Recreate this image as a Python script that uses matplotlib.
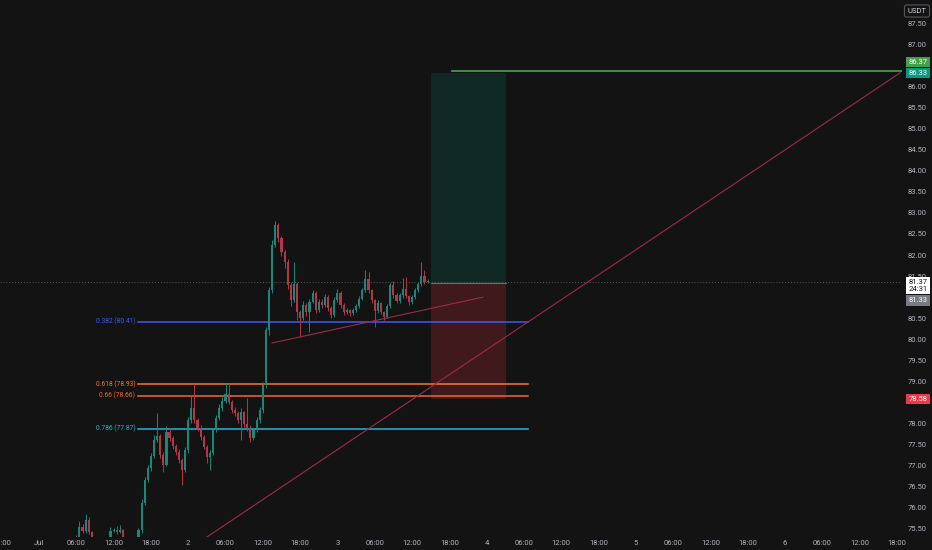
import matplotlib.pyplot as plt
import matplotlib.transforms as mtransforms
import numpy as np

# 30 min candles, July 1 06:00 -> July 3 14:30 (hours counted from July 1 00:00)
start_hour = 6.0
bar_hours = 0.5
first_open = 75.30
closes = [75.25, 75.54, 75.45, 75.71, 75.42, 75.20, 75.10, 75.15, 75.00, 75.10,
          75.20, 75.45, 75.47, 75.42, 75.47, 75.20, 75.10, 75.00, 74.90, 75.00,
          75.47, 76.11, 76.66, 76.94, 77.23, 77.61, 77.70, 77.25, 77.01, 77.80,
          77.65, 77.46, 77.32, 77.13, 76.89, 77.37, 78.08, 78.37, 78.08, 77.89,
          77.68, 77.44, 77.20, 77.30, 77.84, 78.13, 78.37, 78.53, 78.70, 78.51,
          78.32, 78.25, 78.08, 78.27, 77.99, 77.89, 77.65, 77.84, 78.08, 78.32,
          78.91, 80.22, 81.17, 82.24, 82.71, 82.40, 82.07, 81.84, 81.29, 80.93,
          81.31, 80.65, 80.50, 80.81, 80.65, 80.89, 81.10, 80.70, 80.89, 80.81,
          81.00, 80.74, 80.58, 80.93, 81.10, 80.81, 80.65, 80.69, 80.62, 80.69,
          80.79, 80.96, 81.17, 81.43, 81.17, 80.93, 80.67, 80.86, 80.65, 80.53,
          80.79, 81.29, 81.05, 80.91, 81.05, 81.19, 81.03, 80.89, 81.00, 81.17,
          81.31, 81.50, 81.36, 81.37]
highs = [75.35, 75.68, 75.62, 75.85, 75.78, 75.45, 75.25, 75.22, 75.18, 75.15,
         75.25, 75.54, 75.52, 75.56, 75.59, 75.48, 75.22, 75.15, 75.05, 75.08,
         75.52, 76.20, 76.72, 77.02, 77.30, 77.72, 78.25, 77.74, 77.32, 77.94,
         77.88, 77.70, 77.52, 77.38, 77.18, 77.45, 78.15, 78.68, 78.94, 78.12,
         77.95, 77.72, 77.48, 77.36, 77.90, 78.20, 78.45, 78.62, 78.96, 78.96,
         78.55, 78.40, 78.30, 78.36, 78.30, 78.60, 77.95, 77.90, 78.15, 78.40,
         78.98, 80.30, 81.25, 82.35, 82.80, 82.76, 82.45, 82.12, 81.90, 81.35,
         81.83, 81.36, 80.70, 80.90, 80.85, 80.95, 81.18, 81.15, 80.95, 80.95,
         81.08, 81.05, 80.80, 81.00, 81.20, 81.15, 80.85, 80.75, 80.72, 80.74,
         80.84, 81.02, 81.22, 81.65, 81.60, 81.20, 80.95, 80.92, 80.88, 80.68,
         80.84, 81.34, 81.38, 81.10, 81.10, 81.45, 81.48, 81.06, 81.05, 81.22,
         81.36, 81.84, 81.65, 81.42]
lows = [75.15, 75.20, 75.40, 75.40, 75.38, 75.05, 75.00, 75.05, 74.92, 74.95,
        75.05, 75.15, 75.42, 75.38, 75.40, 75.10, 75.00, 74.90, 74.80, 74.85,
        74.95, 75.40, 76.05, 76.60, 76.88, 77.18, 77.55, 77.18, 76.84, 76.98,
        77.58, 77.40, 77.25, 77.05, 76.54, 76.85, 77.30, 78.02, 78.00, 77.82,
        77.60, 77.38, 77.06, 76.89, 77.25, 77.80, 78.08, 78.30, 78.48, 78.45,
        78.25, 78.18, 78.00, 77.60, 77.92, 77.82, 77.55, 77.60, 77.80, 78.02,
        78.25, 78.85, 80.10, 81.10, 82.18, 82.30, 81.98, 81.70, 81.20, 80.80,
        80.88, 80.45, 80.05, 80.45, 80.55, 80.17, 80.85, 80.62, 80.65, 80.75,
        80.76, 80.68, 80.50, 80.52, 80.88, 80.75, 80.58, 80.60, 80.55, 80.58,
        80.65, 80.74, 80.92, 81.12, 81.10, 80.86, 80.29, 80.62, 80.60, 80.46,
        80.50, 80.74, 80.98, 80.85, 80.86, 80.98, 80.98, 80.82, 80.84, 80.95,
        81.12, 81.26, 81.30, 81.33]

fib_names = ["0.382", "0.618", "0.66", "0.786"]
fib_prices = [80.41, 78.93, 78.66, 77.87]
fib_colors = ["#3d5cf2", "#f07b2c", "#ee6a2e", "#22b5d4"]
fib_span = [16.0, 78.7]

entry_price = 81.33
target_price = 86.33
stop_price = 78.58
position_span = [63.0, 75.1]
target_line_price = 86.37
target_line_start = 66.4
last_price = 81.37
countdown = "24:31"

trend_x = [37.5, 71.4]
trend_y = [79.91, 81.00]
diag_x = [26.5, 138.5]
diag_y = [75.25, 86.33]

time_ticks = list(range(-6, 139, 6))
time_labels = ["18:00", "Jul", "06:00", "12:00", "18:00", "2", "06:00", "12:00", "18:00",
               "3", "06:00", "12:00", "18:00", "4", "06:00", "12:00", "18:00",
               "5", "06:00", "12:00", "18:00", "6", "06:00", "12:00", "18:00"]
price_ticks = [75.5, 76.0, 76.5, 77.0, 77.5, 78.0, 79.0, 79.5, 80.0, 80.5,
               81.5, 82.0, 82.5, 83.0, 83.5, 84.0, 84.5, 85.0, 85.5, 86.0,
               87.0, 87.5]

bg = "#131313"
up_col = "#17887a"
down_col = "#b3364b"
draw_col = "#9e2b45"
text_col = "#b2b5be"

plt.rcParams['font.family'] = ['Roboto', 'DejaVu Sans']

fig = plt.figure(figsize=(9.32, 5.5), dpi=100, facecolor=bg)
ax = fig.add_axes([0, 13 / 550, 902 / 932, 537 / 550])
ax.set_facecolor(bg)
ax.set_xlim(-6.27, 138.8)
ax.set_ylim(75.30, 88.06)
for s in ax.spines.values():
    s.set_visible(False)

# candles
t = start_hour + bar_hours * np.arange(len(closes))
c = np.array(closes)
o = np.concatenate([[first_open], c[:-1]])
cols = [up_col if cc >= oo else down_col for oo, cc in zip(o, c)]
ax.vlines(t, lows, highs, colors=cols, linewidth=0.7, zorder=3)
body = np.where(np.abs(c - o) < 0.02, 0.02, c - o)
ax.bar(t, body, bottom=o, width=0.34, color=cols, linewidth=0, zorder=4)

# long position tool
ax.fill_between(position_span, entry_price, target_price, color="#089981", alpha=0.17, linewidth=0, zorder=1)
ax.fill_between(position_span, stop_price, entry_price, color="#f23645", alpha=0.2, linewidth=0, zorder=1)
ax.plot(position_span, [entry_price, entry_price], color="#6b6b6b", linewidth=0.8, zorder=2)
ax.plot([target_line_start, 138.8], [target_line_price] * 2, color="#3f9a45", linewidth=1.3, zorder=2)

# last price line
ax.axhline(last_price, color="#5a5a5a", linewidth=0.7, linestyle=(0, (1, 2)), zorder=1)

# fib levels
for name, p, col in zip(fib_names, fib_prices, fib_colors):
    ax.plot(fib_span, [p, p], color=col, linewidth=1.1, zorder=2)
    ax.text(fib_span[0] - 0.5, p, f"{name} ({p:.2f})", color=col, fontsize=4.8,
            ha="right", va="center", zorder=5)

# drawings
ax.plot(trend_x, trend_y, color=draw_col, linewidth=0.8, zorder=5)
ax.plot(diag_x, diag_y, color=draw_col, linewidth=0.8, zorder=5)

# axes
ax.set_xticks(time_ticks)
ax.set_xticklabels(time_labels)
ax.yaxis.tick_right()
ax.set_yticks(price_ticks)
ax.set_yticklabels([f"{v:.2f}" for v in price_ticks])
ax.tick_params(axis="x", length=0, pad=2.5, labelsize=5.5, labelcolor=text_col)
ax.tick_params(axis="y", length=0, pad=4, labelsize=5.5, labelcolor=text_col)


def price_tag(price, text, face, fg, dy=0):
    tr = mtransforms.offset_copy(ax.get_yaxis_transform(), fig=fig, x=0, y=dy, units="dots")
    ax.text(1.0175, price, text, transform=tr, ha="center", va="center", fontsize=5.5,
            color=fg, linespacing=1.1, clip_on=False, zorder=10,
            bbox=dict(boxstyle="square,pad=0.3", fc=face, ec="none"))


price_tag(target_line_price, f"{target_line_price:.2f}", "#43a047", "white", dy=9)
price_tag(target_price, f"{target_price:.2f}", "#089981", "white")
price_tag(last_price, f"{last_price:.2f}\n{countdown}", "white", "#131313", dy=-4)
price_tag(entry_price, f"{entry_price:.2f}", "#787b86", "white", dy=-17)
price_tag(stop_price, f"{stop_price:.2f}", "#f23645", "white")

fig.text(917 / 932, 1 - 11 / 550, "USDT", color="#d1d4dc", fontsize=5.5, ha="center", va="center",
         bbox=dict(boxstyle="round,pad=0.4,rounding_size=0.3", fc=bg, ec="#555555", lw=0.8))

fig.savefig("out.png", dpi=100, facecolor=bg)
